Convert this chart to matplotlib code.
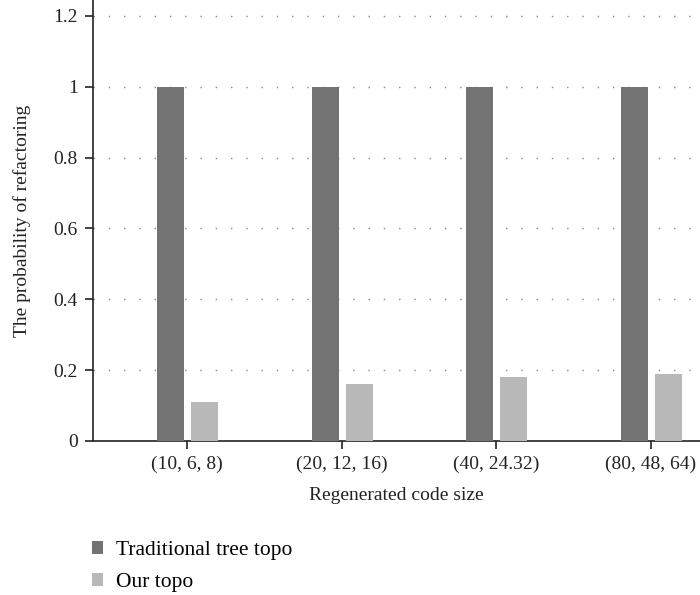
import matplotlib.pyplot as plt
import numpy as np

plt.rcParams['font.family'] = ['Liberation Serif', 'DejaVu Serif']

categories = ['(10, 6, 8)', '(20, 12, 16)', '(40, 24.32)', '(80, 48, 64)']
traditional = [1.0, 1.0, 1.0, 1.0]
ours = [0.11, 0.16, 0.18, 0.19]

fig = plt.figure(figsize=(7, 5.95), dpi=100)
ax = fig.add_axes([0.133, 0.259, 0.867, 0.741])

x = np.arange(len(categories))
width = 0.175
ax.bar(x - 0.107, traditional, width=width, color='#737373', label='Traditional tree topo', zorder=3)
ax.bar(x + 0.113, ours, width=width, color='#b8b8b8', label='Our topo', zorder=3)

ax.set_xlim(-0.608, 3.317)
ax.set_ylim(0, 1.245)
ax.set_yticks([0, 0.2, 0.4, 0.6, 0.8, 1.0, 1.2])
ax.set_yticklabels(['0', '0.2', '0.4', '0.6', '0.8', '1', '1.2'])
ax.set_xticks(x)
ax.set_xticklabels(categories)
ax.tick_params(labelsize=14, length=6, width=1.2, colors='#222222', pad=5)
ax.yaxis.grid(True, linestyle=(0, (1, 10)), color='#888888', linewidth=1.0, zorder=0)

for s in ['top', 'right']:
    ax.spines[s].set_visible(False)
for s in ['left', 'bottom']:
    ax.spines[s].set_linewidth(1.2)
    ax.spines[s].set_color('#222222')

ax.set_xlabel('Regenerated code size', fontsize=14, color='#222222', labelpad=10)
ax.set_ylabel('The probability of refactoring', fontsize=14, color='#222222', labelpad=16)

fig.legend(loc='upper left', bbox_to_anchor=(0.119, 0.105), frameon=False,
           fontsize=15.5, handlelength=0.5, handleheight=0.5, handletextpad=0.6,
           labelspacing=0.6, borderaxespad=0)

fig.savefig('out.png', dpi=100)
